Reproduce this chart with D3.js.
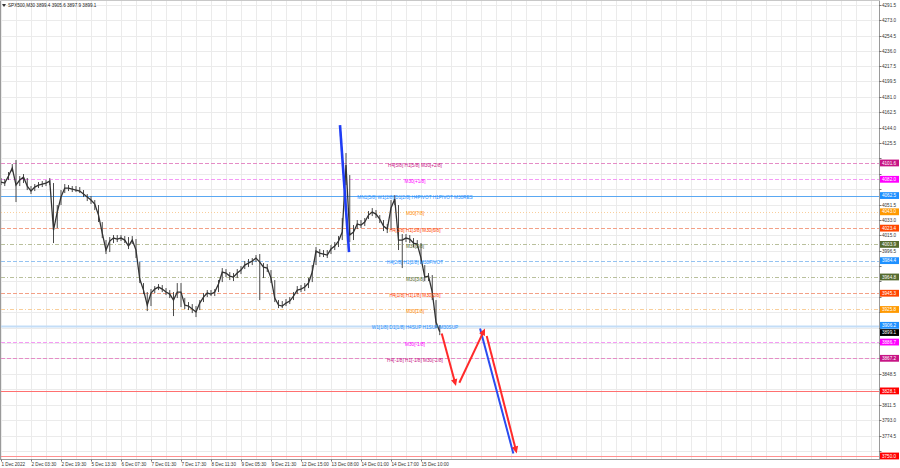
<!DOCTYPE html>
<html><head><meta charset="utf-8">
<script src="https://cdn.jsdelivr.net/npm/d3@7"></script>
<style>body{margin:0;background:#fff} svg{display:block}</style>
</head><body>
<svg id="c" width="900" height="468"></svg>
<script>
// ---------------- DATA ----------------
const symbolTitle = "SPX500,M30  3899.4 3905.6 3897.9 3899.1";
const timeLabels = ["1 Dec 2022","2 Dec 03:30","2 Dec 19:30","5 Dec 13:30","6 Dec 07:30","7 Dec 01:30","7 Dec 17:30","8 Dec 11:30","9 Dec 05:30","9 Dec 21:30","12 Dec 15:00","13 Dec 08:00","14 Dec 01:00","14 Dec 17:00","15 Dec 10:00"];
const timeLabelBars = [0,32,64,96,128,160,192,224,256,288,320,352,384,416,448];
const priceTicks = [4291.5,4273.0,4254.5,4236.0,4217.5,4199.5,4181.0,4162.5,4144.0,4125.5,4107.0,4088.5,4070.0,4051.5,4033.0,4015.0,3996.5,3978.0,3959.5,3941.0,3922.5,3904.0,3885.5,3867.0,3848.5,3830.0,3811.5,3793.0,3774.5,3756.0];
const barsPerSample = 4;
const closes = [4078.7,4077.5,4085.9,4095.5,4075.1,4081.1,4084.7,4073.9,4067.9,4072.7,
4075.1,4076.3,4077.5,4079.9,4021.1,4042.7,4060.7,4071.5,4071.5,4070.3,
4069.1,4067.9,4064.3,4060.7,4057.1,4052.3,4039.1,4017.5,3997.1,4007.9,
4011.5,4010.3,4011.5,4009.1,4001.9,4009.1,3997.1,3962.3,3949.1,3931.1,
3945.5,3950.3,3952.7,3950.3,3946.7,3944.3,3937.1,3946.7,3946.7,3931.1,
3929.9,3926.3,3922.7,3933.5,3940.7,3945.5,3944.3,3946.7,3956.3,3970.7,
3969.5,3965.9,3964.7,3969.5,3973.1,3979.1,3981.5,3983.9,3987.5,3982.7,
3976.7,3975.5,3963.5,3939.5,3931.1,3929.9,3933.5,3935.9,3941.9,3949.1,
3950.3,3952.7,3957.5,3970.7,3995.9,3993.5,3992.3,3991.1,3998.3,4001.9,
4007.9,4018.7,4099.1,4015.1,4018.7,4028.3,4027.1,4030.7,4039.1,4042.7,
4040.3,4034.3,4025.9,4022.3,4047.5,4058.3,4009.1,4009.1,4011.5,4010.3,
4005.5,4004.3,3987.5,3964.7,3965.9,3946.7,3910.7,3899.1];
const highs = [4083.5,4082.3,4090.7,4100.3,4105.1,4085.9,4088.3,4083.5,4073.9,4076.3,
4078.7,4079.9,4081.1,4083.5,4077.5,4051.1,4069.1,4076.3,4075.1,4073.9,
4073.9,4072.7,4069.1,4064.3,4061.9,4057.1,4051.1,4030.7,4009.1,4012.7,
4015.1,4015.1,4015.1,4013.9,4012.7,4013.9,4010.3,3982.7,3957.5,3946.7,
3950.3,3953.9,3956.3,3955.1,3951.5,3949.1,3946.7,3957.5,3957.5,3939.5,
3934.7,3932.3,3929.9,3937.1,3945.5,3949.1,3949.1,3950.3,3961.1,3975.5,
3974.3,3970.7,3969.5,3974.3,3977.9,3983.9,3986.3,3987.5,3991.1,3992.3,
3981.5,3980.3,3973.1,3961.1,3937.1,3935.9,3938.3,3940.7,3946.7,3953.9,
3955.1,3957.5,3963.5,3979.1,4000.7,3998.3,3997.1,3997.1,4003.1,4006.7,
4013.9,4035.5,4113.5,4087.1,4027.1,4033.1,4033.1,4035.5,4043.9,4047.5,
4045.1,4039.1,4033.1,4028.3,4057.1,4063.1,4051.1,4016.3,4016.3,4015.1,
4011.5,4009.1,4005.5,3979.1,3969.5,3967.1,3937.1,3907.1];
const lows = [4075.1,4073.9,4081.1,4090.7,4054.7,4073.9,4077.5,4069.1,4064.3,4067.9,
4071.5,4072.7,4073.9,4075.1,4005.5,4023.5,4051.1,4065.5,4067.9,4066.7,
4066.7,4065.5,4060.7,4055.9,4052.3,4045.1,4030.7,4011.5,3992.3,3994.7,
4005.5,4006.7,4007.9,4005.5,3998.3,4004.3,3987.5,3957.5,3944.3,3923.9,
3929.9,3945.5,3949.1,3946.7,3943.1,3939.5,3917.9,3939.5,3928.7,3926.3,
3925.1,3921.5,3916.7,3925.1,3934.7,3940.7,3941.9,3941.9,3946.7,3958.7,
3964.7,3961.1,3959.9,3963.5,3968.3,3974.3,3976.7,3979.1,3982.7,3937.1,
3963.5,3970.7,3957.5,3934.7,3927.5,3927.5,3929.9,3932.3,3937.1,3944.3,
3946.7,3947.9,3951.5,3958.7,3979.1,3988.7,3988.7,3987.5,3992.3,3997.1,
4000.7,4009.1,4075.1,4006.7,4009.1,4022.3,4023.5,4025.9,4034.3,4037.9,
4035.5,4029.5,4019.9,4017.5,4021.1,4051.1,3997.1,3975.5,4006.7,4005.5,
4000.7,3999.5,3980.3,3959.9,3959.9,3937.1,3903.5,3895.0];
const levelPrices = [4101.6,4082.0,4062.5,4043.0,4023.4,4003.9,3984.4,3964.8,3945.3,3925.8,3906.2,3886.7,3867.2,3828.1,3750.0];
const levelTexts = ["H4[5/8] H1[5/8] M30[+2/8]","M30[+1/8]","MN1[5/8] W1[2/8] D1[2/8] H4PIVOT H1PIVOT M30RES","M30[7/8]","H4[3/8] H1[3/8] M30[6/8]","M30[5/8]","H4[2/8] H1[2/8] M30PIVOT","M30[3/8]","H4[1/8] H1[1/8] M30[2/8]","M30[1/8]","W1[1/8] D1[1/8] H4SUP H1SUP M30SUP","M30[-1/8]","H4[-1/8] H1[-1/8] M30[-2/8]","",""];
const currentPrice = 3899.1;
// forecast arrows: [barIndex, price]
const blueTrend = [[361.6,4147.1],[371.2,3994.7]];
const blueForecast = [[511.0,3903.1],[546.5,3753.1]];
const redLeg1 = [[470.1,3897.1],[485.3,3833.9]];
const redLeg2 = [[488.9,3837.9],[516.3,3903.1]];
const redLeg3 = [[518.1,3893.9],[550.1,3753.1]];

// ---------------- STYLE ----------------
const levelStyle = [
 {box:"#c71585", line:"#e58cc6", dash:"4,2", text:"#c71585"},
 {box:"#ff00ff", line:"#f59af5", dash:"4,2", text:"#ff00ff"},
 {box:"#1e90ff", line:"#5aa8f2", dash:null, text:"#1e90ff", w:1},
 {box:"#ff9900", line:"#f9cf9c", dash:"1,2", text:"#ff8c00"},
 {box:"#ff4500", line:"#f3a086", dash:"4,2", text:"#ff4500"},
 {box:"#556b2f", line:"#b9c09c", dash:"4,2,1,2", text:"#556b2f"},
 {box:"#1e90ff", line:"#95c3f1", dash:"4,2", text:"#1e90ff"},
 {box:"#556b2f", line:"#b9c09c", dash:"4,2,1,2", text:"#556b2f"},
 {box:"#ff4500", line:"#f3a086", dash:"4,2", text:"#ff4500"},
 {box:"#ff9900", line:"#f9cf9c", dash:"4,2,1,2", text:"#ff8c00"},
 {box:"#1e90ff", line:"#c3ddf7", dash:null, text:"#1e90ff", w:2},
 {box:"#ff00ff", line:"#f59af5", dash:"4,2", text:"#ff00ff"},
 {box:"#c71585", line:"#e58cc6", dash:"4,2", text:"#c71585"},
 {box:"#ff0000", line:"#ff7070", dash:null, text:"#ff0000", w:1},
 {box:"#ff0000", line:"#ff9090", dash:null, text:"#ff0000", w:1}
];
const FONT = "'Liberation Sans', Arial, sans-serif";
const plotL = 0, plotR = 879, plotT = 0.5, plotB = 459.5;
const labelCenterX = 415;

const svg = d3.select("#c");
const x = d3.scaleLinear().domain([0, 32]).range([1, 31]);
const y = d3.scaleLinear().domain([3756.0, 4291.5]).range([451, 4.7]);

// grid
const grid = svg.append("g");
priceTicks.forEach(t => {
  grid.append("line").attr("x1", plotL).attr("x2", plotR)
    .attr("y1", Math.round(y(t)) + 0.5).attr("y2", Math.round(y(t)) + 0.5)
    .attr("stroke", "#ebebeb").attr("stroke-width", 1);
});
d3.range(0, 60).forEach(j => {
  const gx = x(j * 16);
  if (gx > plotR) return;
  grid.append("line").attr("x1", Math.round(gx) + 0.5).attr("x2", Math.round(gx) + 0.5)
    .attr("y1", plotT).attr("y2", plotB).attr("stroke", "#ebebeb");
});

// level lines
const lv = svg.append("g");
levelPrices.forEach((p, i) => {
  const st = levelStyle[i];
  const yy = Math.round(y(p)) + 0.5;
  const l = lv.append("line").attr("x1", plotL + 1).attr("x2", plotR).attr("y1", yy).attr("y2", yy)
    .attr("stroke", st.line).attr("stroke-width", st.w || 1);
  if (st.dash) l.attr("stroke-dasharray", st.dash);
});

// price trace
const data = closes.map((c, k) => ({i: k * barsPerSample, c, h: highs[k], l: lows[k]}));
const tr = svg.append("g");
tr.selectAll("line.w").data(data).join("line")
  .attr("x1", d => x(d.i)).attr("x2", d => x(d.i))
  .attr("y1", d => y(d.h)).attr("y2", d => y(d.l))
  .attr("stroke", "#4a4a4a").attr("stroke-width", 1);
tr.append("path").datum(data)
  .attr("d", d3.line().x(d => x(d.i)).y(d => y(d.c)))
  .attr("fill", "none").attr("stroke", "#333").attr("stroke-width", 1.3);

// level texts
levelPrices.forEach((p, i) => {
  if (!levelTexts[i]) return;
  svg.append("text").attr("x", labelCenterX).attr("y", y(p) + 3.6)
    .attr("text-anchor", "middle").attr("font-family", FONT).attr("font-size", 4.7)
    .attr("fill", levelStyle[i].text).text(levelTexts[i]);
});

// arrows
function arrow(pts, color, w, head) {
  const p0 = [x(pts[0][0]), y(pts[0][1])], p1 = [x(pts[1][0]), y(pts[1][1])];
  let e = p1;
  const dx = p1[0] - p0[0], dy = p1[1] - p0[1], L = Math.hypot(dx, dy);
  const ux = dx / L, uy = dy / L;
  if (head) e = [p1[0] - ux * 5, p1[1] - uy * 5];
  svg.append("line").attr("x1", p0[0]).attr("y1", p0[1]).attr("x2", e[0]).attr("y2", e[1])
    .attr("stroke", color).attr("stroke-width", w);
  if (head) {
    const hl = 7, hw = 3.2;
    const bx = p1[0] - ux * hl, by = p1[1] - uy * hl;
    svg.append("polygon").attr("points",
      [[p1[0], p1[1]], [bx - uy * hw, by + ux * hw], [bx + uy * hw, by - ux * hw]].map(q => q.join(",")).join(" "))
      .attr("fill", color);
  }
}
arrow(blueTrend, "#1f3df5", 2.6, false);
arrow(blueForecast, "#2b4cf0", 2, false);
arrow(redLeg1, "#ff2a2a", 2, true);
arrow(redLeg2, "#ff2a2a", 2, true);
arrow(redLeg3, "#ff2a2a", 2, true);

// frame
svg.append("line").attr("x1", 0.5).attr("x2", 0.5).attr("y1", plotT).attr("y2", plotB).attr("stroke", "#9a9a9a");
svg.append("line").attr("x1", plotR + 0.5).attr("x2", plotR + 0.5).attr("y1", plotT).attr("y2", plotB).attr("stroke", "#9a9a9a");
svg.append("line").attr("x1", 0).attr("x2", plotR + 1).attr("y1", plotB).attr("y2", plotB).attr("stroke", "#9a9a9a");
svg.append("line").attr("x1", 0).attr("x2", plotR + 1).attr("y1", plotT).attr("y2", plotT).attr("stroke", "#c8c8c8");

// price axis ticks
const ax = svg.append("g");
const boxCenters = levelPrices.concat([currentPrice]).map(p => y(p));
priceTicks.forEach(t => {
  const yy = Math.round(y(t)) + 0.5;
  ax.append("line").attr("x1", plotR).attr("x2", plotR + 2.5).attr("y1", yy).attr("y2", yy).attr("stroke", "#777");
  const hidden = boxCenters.some(b => Math.abs(b - yy) < 6.2);
  if (hidden) return;
  ax.append("text").attr("x", plotR + 3).attr("y", yy + 1.6).attr("font-family", FONT)
    .attr("font-size", 4.6).attr("fill", "#333").text(t.toFixed(1));
});
// level boxes
function box(p, color, dy) {
  const yy = y(p) + (dy || 0);
  ax.append("rect").attr("x", plotR + 1).attr("y", yy - 3.4).attr("width", 19).attr("height", 6.8).attr("fill", color);
  ax.append("text").attr("x", plotR + 3).attr("y", yy + 1.6).attr("font-family", FONT)
    .attr("font-size", 4.6).attr("fill", "#fff").text(p.toFixed(1));
}
levelPrices.forEach((p, i) => box(p, levelStyle[i].box, i === 10 ? -0.5 : 0));
box(currentPrice, "#000", 0.8);

// time axis
timeLabels.forEach((t, i) => {
  const tx = x(timeLabelBars[i]);
  svg.append("line").attr("x1", Math.round(tx) + 0.5).attr("x2", Math.round(tx) + 0.5)
    .attr("y1", plotB).attr("y2", plotB + 2).attr("stroke", "#777");
  svg.append("text").attr("x", tx + 0.5).attr("y", 465.5).attr("font-family", FONT)
    .attr("font-size", 4.6).attr("fill", "#333").text(t);
});

// title
svg.append("polygon").attr("points", "2,4 6,4 4,7").attr("fill", "#333");
svg.append("text").attr("x", 8).attr("y", 6.8).attr("font-family", FONT).attr("font-size", 4.6)
  .attr("fill", "#222").text(symbolTitle);
</script>
</body></html>
